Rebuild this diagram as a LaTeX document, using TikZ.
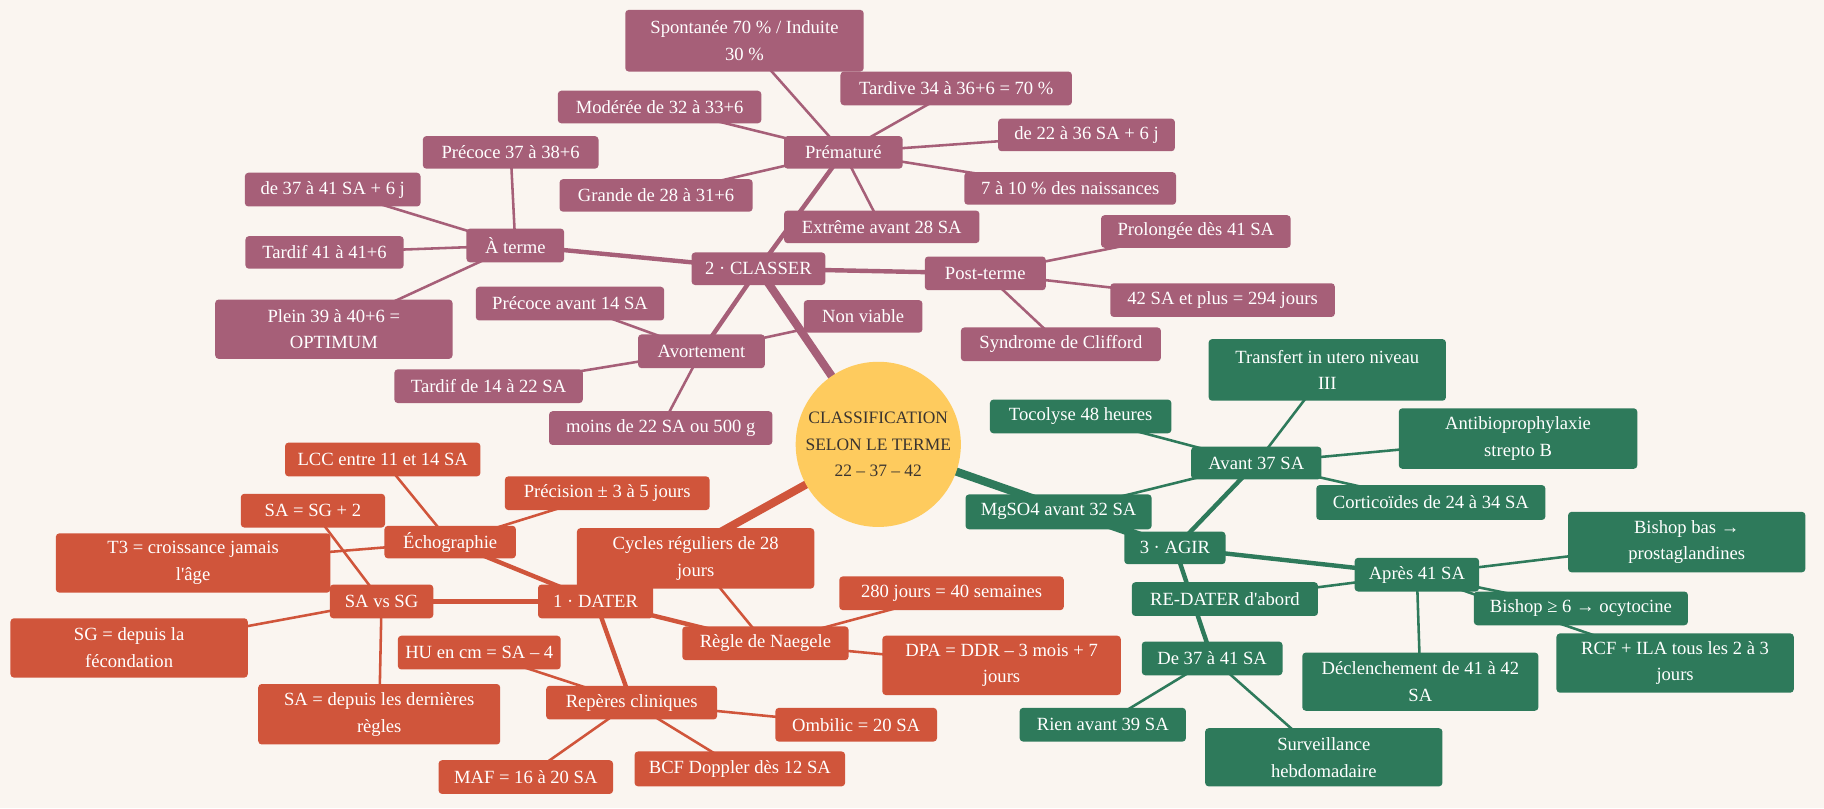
\documentclass[tikz,border=0pt]{standalone}
\usepackage{fontspec}
\setmainfont{Liberation Serif}
\usetikzlibrary{shapes.geometric}
\definecolor{bgc}{HTML}{FAF5F0}
\definecolor{purp}{HTML}{A65F78}
\definecolor{grn}{HTML}{2E7A5B}
\definecolor{org}{HTML}{D0553B}
\definecolor{yel}{HTML}{FECB5E}
\definecolor{dark}{HTML}{3A3430}
\pgfdeclarelayer{bgfill}
\pgfdeclarelayer{edges}
\pgfsetlayers{bgfill,edges,main}
\tikzset{
  box/.style={rectangle, rounded corners=3pt, inner sep=0pt, text=white,
    font=\fontsize{16}{23}\selectfont, align=center},
  pbox/.style={box, fill=purp},
  gbox/.style={box, fill=grn},
  obox/.style={box, fill=org},
  sz/.style 2 args={minimum width=#1pt, minimum height=#2pt},
  ea/.style={line width=7pt},
  eb/.style={line width=3.8pt},
  ec/.style={line width=2.2pt},
}
\begin{document}
\begin{tikzpicture}[x=1pt,y=-1pt]
\begin{pgfonlayer}{bgfill}
\fill[bgc] (0,0) rectangle (1568,695);
\end{pgfonlayer}
\useasboundingbox (0,0) rectangle (1568,695);

% root
\node[circle, fill=yel, minimum size=142pt, inner sep=0pt,
  text=dark, align=center, font=\fontsize{15}{22.5}\selectfont] (root) at (755,382)
  {CLASSIFICATION\\SELON LE TERME\\22 – 37 – 42};

% purple branch
\node[pbox, sz={205}{53}] (spont) at (640,35) {Spontanée 70 \% / Induite\\30 \%};
\node[pbox, sz={199}{29}] (tardive) at (822,76) {Tardive 34 à 36+6 = 70 \%};
\node[pbox, sz={175}{28}] (moderee) at (567,92) {Modérée de 32 à 33+6};
\node[pbox, sz={152}{28}] (de22) at (934,116) {de 22 à 36 SA + 6 j};
\node[pbox, sz={102}{28}] (premat) at (725,131) {Prématuré};
\node[pbox, sz={151}{28}] (precoceA) at (439,131) {Précoce 37 à 38+6};
\node[pbox, sz={166}{28}] (grande) at (564,168) {Grande de 28 à 31+6};
\node[pbox, sz={182}{28}] (sept) at (920,162) {7 à 10 \% des naissances};
\node[pbox, sz={151}{29}] (de37) at (286,163) {de 37 à 41 SA + 6 j};
\node[pbox, sz={168}{28}] (extreme) at (758,195) {Extrême avant 28 SA};
\node[pbox, sz={163}{28}] (prolong) at (1028,199) {Prolongée dès 41 SA};
\node[pbox, sz={84}{29}] (aterme) at (443,211) {À terme};
\node[pbox, sz={136}{28}] (tardifA) at (279,217) {Tardif 41 à 41+6};
\node[pbox, sz={115}{28}] (classer) at (652,231) {2 · CLASSER};
\node[pbox, sz={104}{29}] (post) at (847,235) {Post-terme};
\node[pbox, sz={193}{29}] (qdeux) at (1051,258) {42 SA et plus = 294 jours};
\node[pbox, sz={162}{29}] (precoceB) at (490,261) {Précoce avant 14 SA};
\node[pbox, sz={102}{28}] (nonviable) at (742,272) {Non viable};
\node[pbox, sz={204}{51}] (plein) at (287,283) {Plein 39 à 40+6 =\\OPTIMUM};
\node[pbox, sz={109}{29}] (avort) at (603,302) {Avortement};
\node[pbox, sz={172}{29}] (clifford) at (912,296) {Syndrome de Clifford};
\node[pbox, sz={162}{29}] (tardifB) at (420,332) {Tardif de 14 à 22 SA};
\node[pbox, sz={192}{29}] (moins) at (568,368) {moins de 22 SA ou 500 g};

% green branch
\node[gbox, sz={204}{53}] (transfert) at (1141,318) {Transfert in utero niveau\\III};
\node[gbox, sz={156}{29}] (tocolyse) at (929,358) {Tocolyse 48 heures};
\node[gbox, sz={205}{52}] (antibio) at (1305,377) {Antibioprophylaxie\\strepto B};
\node[gbox, sz={112}{28}] (avant) at (1080,398) {Avant 37 SA};
\node[gbox, sz={197}{30}] (cortico) at (1230,432) {Corticoïdes de 24 à 34 SA};
\node[gbox, sz={160}{30}] (mgso) at (910,440) {MgSO4 avant 32 SA};
\node[gbox, sz={204}{52}] (bishopbas) at (1450,466) {Bishop bas →\\prostaglandines};
\node[gbox, sz={87}{28}] (agir) at (1010,471) {3 · AGIR};
\node[gbox, sz={107}{29}] (apres) at (1218,494) {Après 41 SA};
\node[gbox, sz={160}{29}] (redater) at (1053,515) {RE-DATER d\textquotesingle abord};
\node[gbox, sz={184}{29}] (bishopsix) at (1359,523) {Bishop ≥ 6 → ocytocine};
\node[gbox, sz={204}{51}] (rcf) at (1440,570) {RCF + ILA tous les 2 à 3\\jours};
\node[gbox, sz={121}{29}] (dtrente) at (1042,566) {De 37 à 41 SA};
\node[gbox, sz={203}{50}] (declench) at (1221,586) {Déclenchement de 41 à 42\\SA};
\node[gbox, sz={143}{29}] (rien) at (948,623) {Rien avant 39 SA};
\node[gbox, sz={204}{50}] (surveil) at (1138,651) {Surveillance\\hebdomadaire};

% orange branch
\node[obox, sz={168}{29}] (lcc) at (329,395) {LCC entre 11 et 14 SA};
\node[obox, sz={176}{29}] (precision) at (522,424) {Précision ± 3 à 5 jours};
\node[obox, sz={124}{29}] (sasg) at (269,439) {SA = SG + 2};
\node[obox, sz={113}{28}] (echo) at (387,466) {Échographie};
\node[obox, sz={236}{51}] (tthree) at (166,484) {T3 = croissance jamais\\l\textquotesingle âge};
\node[obox, sz={204}{52}] (cycles) at (598,480) {Cycles réguliers de 28\\jours};
\node[obox, sz={89}{29}] (savs) at (328,517) {SA vs SG};
\node[obox, sz={99}{29}] (dater) at (512,517) {1 · DATER};
\node[obox, sz={193}{29}] (jours) at (818,510) {280 jours = 40 semaines};
\node[obox, sz={204}{51}] (sgfec) at (111,557) {SG = depuis la\\fécondation};
\node[obox, sz={143}{29}] (naegele) at (658,553) {Règle de Naegele};
\node[obox, sz={205}{51}] (dpa) at (861,572) {DPA = DDR – 3 mois + 7\\jours};
\node[obox, sz={140}{29}] (hu) at (412,561) {HU en cm = SA – 4};
\node[obox, sz={208}{52}] (sadern) at (326,614) {SA = depuis les dernières\\règles};
\node[obox, sz={147}{29}] (reperes) at (543,604) {Repères cliniques};
\node[obox, sz={139}{29}] (ombilic) at (736,623) {Ombilic = 20 SA};
\node[obox, sz={150}{29}] (maf) at (452,668) {MAF = 16 à 20 SA};
\node[obox, sz={181}{30}] (bcf) at (636,661) {BCF Doppler dès 12 SA};

\begin{pgfonlayer}{edges}
% purple
\draw[purp, ea] (root.center) -- (classer.center);
\foreach \n in {premat, aterme, post, avort}
  \draw[purp, eb] (classer.center) -- (\n.center);
\foreach \n in {spont, tardive, moderee, de22, grande, sept, extreme}
  \draw[purp, ec] (premat.center) -- (\n.center);
\foreach \n in {precoceA, de37, tardifA, plein}
  \draw[purp, ec] (aterme.center) -- (\n.center);
\foreach \n in {prolong, qdeux, clifford}
  \draw[purp, ec] (post.center) -- (\n.center);
\foreach \n in {precoceB, nonviable, tardifB, moins}
  \draw[purp, ec] (avort.center) -- (\n.center);
% green
\draw[grn, ea] (root.center) -- (agir.center);
\foreach \n in {avant, apres, dtrente}
  \draw[grn, eb] (agir.center) -- (\n.center);
\foreach \n in {transfert, tocolyse, antibio, cortico, mgso}
  \draw[grn, ec] (avant.center) -- (\n.center);
\foreach \n in {bishopbas, redater, bishopsix, rcf, declench}
  \draw[grn, ec] (apres.center) -- (\n.center);
\foreach \n in {rien, surveil}
  \draw[grn, ec] (dtrente.center) -- (\n.center);
% orange
\draw[org, ea] (root.center) -- (dater.center);
\foreach \n in {echo, savs, naegele, reperes}
  \draw[org, eb] (dater.center) -- (\n.center);
\foreach \n in {lcc, precision, tthree}
  \draw[org, ec] (echo.center) -- (\n.center);
\foreach \n in {sasg, sgfec, sadern}
  \draw[org, ec] (savs.center) -- (\n.center);
\foreach \n in {cycles, jours, dpa}
  \draw[org, ec] (naegele.center) -- (\n.center);
\foreach \n in {hu, ombilic, maf, bcf}
  \draw[org, ec] (reperes.center) -- (\n.center);
\end{pgfonlayer}
\end{tikzpicture}
\end{document}
